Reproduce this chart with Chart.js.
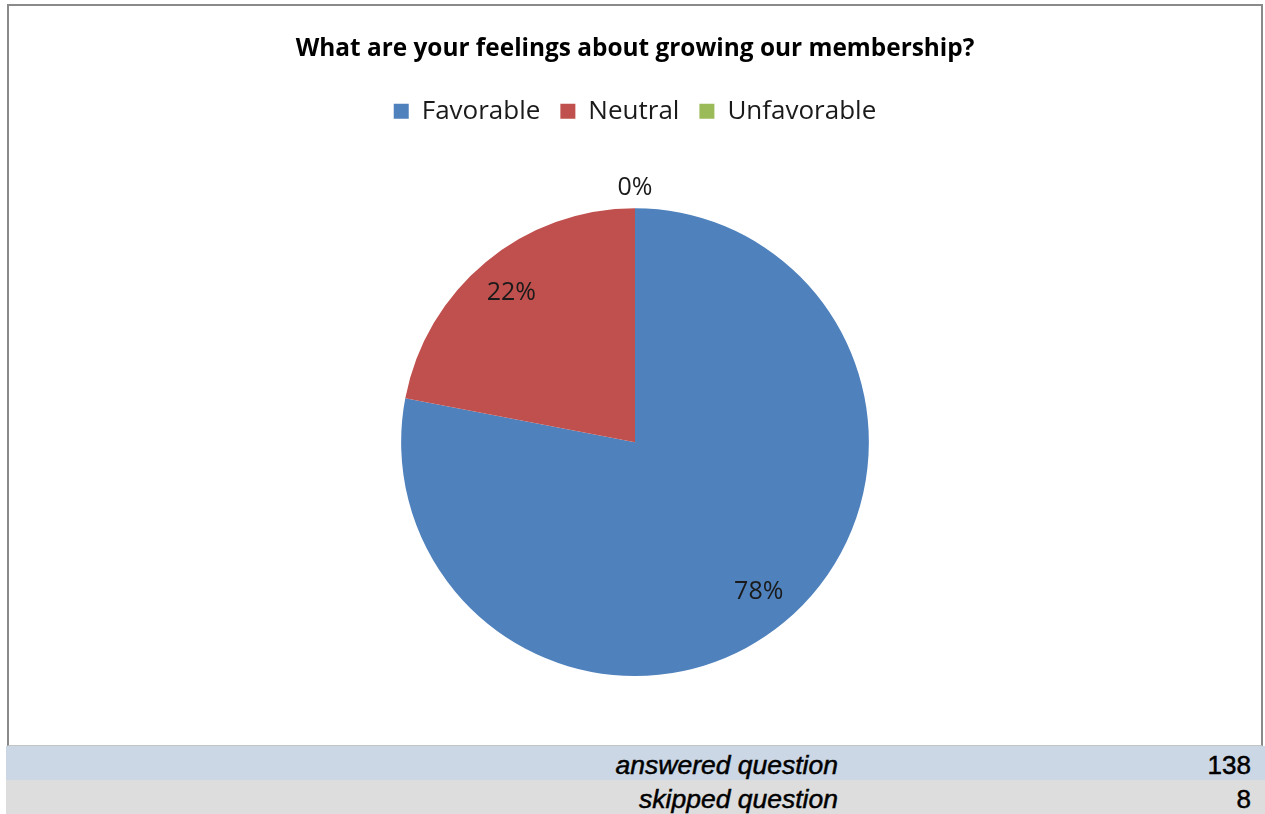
<!DOCTYPE html>
<html>
<head>
<meta charset="utf-8">
<script src="https://cdn.jsdelivr.net/npm/chart.js@4.4.1/dist/chart.umd.min.js"></script>
<style>
  body { margin: 0; background: #fff; width: 1265px; height: 814px; position: relative; overflow: hidden; }
  #caixa {
    position: absolute; left: 7px; top: 4px; width: 1252px; height: 739px;
    border: 2px solid #8a8a8a; border-bottom: 1px solid #c4c4c4;
  }
  #caixa canvas { display: block; }
  .linha {
    position: absolute; left: 6px; width: 1259px; height: 34px;
    font-family: "Liberation Sans", Arial, sans-serif;
    font-size: 26.5px; color: #000;
  }
  .linha span { position: absolute; top: 4px; white-space: nowrap; -webkit-text-stroke: 0.5px #000; }
  .rotulo { right: 427px; font-style: italic; }
  .numero { right: 14px; font-size: 26px; }
  #respondidas { top: 746px; background: #cbd7e5; }
  #puladas { top: 780px; background: #dddddd; }
</style>
</head>
<body>
<div id="caixa"><canvas id="grafico" width="1252" height="739"></canvas></div>
<div class="linha" id="respondidas"><span class="rotulo">answered question</span><span class="numero" id="num-respondidas"></span></div>
<div class="linha" id="puladas"><span class="rotulo">skipped question</span><span class="numero" id="num-puladas"></span></div>

<script>
const titulo = "What are your feelings about growing our membership?";
const categorias = ["Favorable", "Neutral", "Unfavorable"];
const percentuais = [78, 22, 0];
const cores = ["#4f81bd", "#c0504d", "#9bbb59"];
const totalRespondidas = 138;
const totalPuladas = 8;

document.getElementById("num-respondidas").textContent = totalRespondidas;
document.getElementById("num-puladas").textContent = totalPuladas;

// espaco extra abaixo da legenda, para a pizza ficar mais baixa
const espacoLegenda = {
  id: "espacoLegenda",
  beforeInit(chart) {
    const fitOriginal = chart.legend.fit;
    chart.legend.fit = function () {
      fitOriginal.bind(chart.legend)();
      this.height += 74;
    };
  }
};

// rotulos de porcentagem: dentro da fatia, ou fora quando a fatia e zero
const rotulosPorcentagem = {
  id: "rotulosPorcentagem",
  afterDatasetsDraw(chart) {
    const ctx = chart.ctx;
    const meta = chart.getDatasetMeta(0);
    ctx.save();
    ctx.font = "25px 'Open Sans'";
    ctx.fillStyle = "#1a1a1a";
    ctx.textAlign = "center";
    ctx.textBaseline = "middle";
    meta.data.forEach((arco, i) => {
      const meio = (arco.startAngle + arco.endAngle) / 2;
      const r = percentuais[i] > 0 ? arco.outerRadius * 0.83 : arco.outerRadius + 20;
      const x = arco.x + Math.cos(meio) * r;
      const y = arco.y + Math.sin(meio) * r;
      ctx.fillText(percentuais[i] + "%", x, y);
    });
    ctx.restore();
  }
};

new Chart(document.getElementById("grafico").getContext("2d"), {
  type: "pie",
  data: {
    labels: categorias,
    datasets: [{
      data: percentuais,
      backgroundColor: cores,
      borderWidth: 0
    }]
  },
  options: {
    responsive: false,
    animation: false,
    layout: { padding: { top: 0, bottom: 69 } },
    plugins: {
      title: {
        display: true,
        text: titulo,
        color: "#000",
        font: { family: "'Open Sans'", size: 24.4, weight: "bold" },
        padding: { top: 28, bottom: 15 }
      },
      legend: {
        position: "top",
        labels: {
          color: "#1a1a1a",
          font: { family: "'Open Sans'", size: 26 },
          boxWidth: 15,
          boxHeight: 15,
          padding: 20
        }
      },
      tooltip: { enabled: false }
    }
  },
  plugins: [espacoLegenda, rotulosPorcentagem]
});
</script>
</body>
</html>
